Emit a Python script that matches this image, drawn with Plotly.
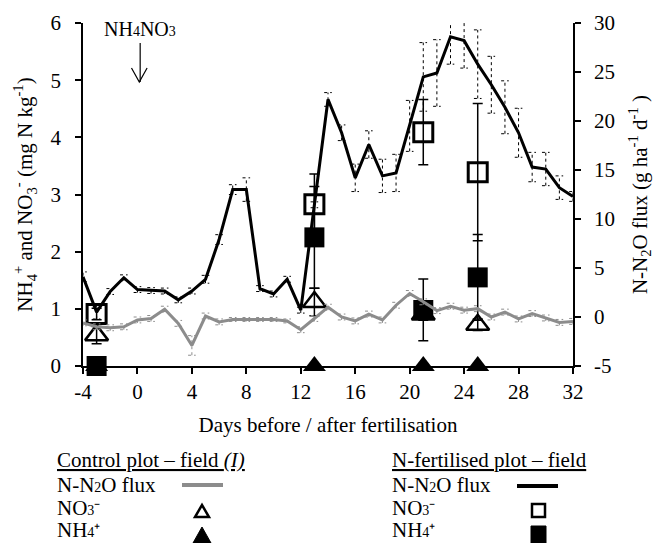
import plotly.graph_objects as go

# ---------------- data ----------------
days = list(range(-4, 33))
flux_fert = [4.1, 0.5, 2.6, 4.0, 2.8, 2.7, 2.65, 1.75, 2.65, 3.85, 7.9, 13.0, 13.0,
             2.9, 2.35, 3.85, 0.7, 11.45, 22.2, 18.8, 14.2, 17.6, 14.4, 14.7, 19.5,
             24.5, 24.9, 28.6, 28.2, 25.8, 23.7, 21.4, 18.8, 15.3, 15.1, 13.2, 12.3]
flux_fert_err = [0.5, 0.7, 0.3, 0.3, 0.3, 0.3, 0.3, 0.3, 0.3, 0.4, 0.5, 0.5, 1.2,
                 0.3, 0.3, 0.3, 0.3, 0.3, 0.7, 0.8, 1.4, 1.4, 1.7, 1.9, 2.6,
                 3.5, 3.4, 2.8, 2.8, 3.5, 2.9, 2.7, 2.5, 1.5, 1.7, 1.2, 0.5]
flux_ctrl = [-0.6, -1.0, -1.1, -1.0, -0.3, -0.15, 0.8, -0.65, -2.9, 0.1, -0.5, -0.25, -0.25,
             -0.25, -0.25, -0.4, -1.3, -0.15, 1.0, 0.0, -0.4, 0.3, -0.3, 1.2, 2.4,
             1.55, 0.65, 1.1, 0.7, 0.85, 0.0, 0.5, -0.2, 0.35, -0.1, -0.55, -0.45]
flux_ctrl_err = [0.3, 0.3, 0.3, 0.3, 0.3, 0.3, 0.3, 0.3, 1.0, 0.3, 0.3, 0.2, 0.2,
                 0.2, 0.2, 0.2, 0.3, 0.3, 0.3, 0.3, 0.3, 0.3, 0.3, 0.3, 0.3,
                 0.3, 0.3, 0.3, 0.3, 0.3, 0.3, 0.3, 0.3, 0.3, 0.3, 0.3, 0.3]

sample_days = [-3, 13, 21, 25]
no3_fert = [0.91, 2.83, 4.09, 3.39]
no3_fert_err = [0.1, 0.53, 0.57, 1.2]
nh4_fert = [0.0, 2.25, 0.98, 1.55]
nh4_fert_err = [0.05, 0.89, 0.54, 0.75]
no3_ctrl = [0.54, 1.12, 0.9, 0.72]
no3_ctrl_err = [0.15, 0.24, 0.1, 0.1]
nh4_ctrl = [0.0, 0.0, 0.0, 0.0]

x_ticks = list(range(-4, 33, 4))
y_ticks = list(range(0, 7))
y2_ticks = list(range(-5, 31, 5))
FONT = "Liberation Serif"
GRAY = "#8c8c8c"
FS = 21


def small(d, size=14):
    return f'<span style="font-size:{size}px">{d}</span>'


def dashed_bars(x, y, e, cap=0.28):
    xs, ys = [], []
    for xi, yi, ei in zip(x, y, e):
        xs += [xi, xi, None, xi - cap, xi + cap, None, xi - cap, xi + cap, None]
        ys += [yi - ei, yi + ei, None, yi + ei, yi + ei, None, yi - ei, yi - ei, None]
    return xs, ys


fig = go.Figure()

ex, ey = dashed_bars(days, flux_ctrl, flux_ctrl_err)
fig.add_trace(go.Scatter(x=ex, y=ey, yaxis="y2", mode="lines",
                         line=dict(color=GRAY, width=1, dash="dot"), showlegend=False))
ex, ey = dashed_bars(days, flux_fert, flux_fert_err)
fig.add_trace(go.Scatter(x=ex, y=ey, yaxis="y2", mode="lines",
                         line=dict(color="black", width=1, dash="dot"), showlegend=False))

fig.add_trace(go.Scatter(x=days, y=flux_ctrl, yaxis="y2", mode="lines",
                         line=dict(color=GRAY, width=3), showlegend=False))
fig.add_trace(go.Scatter(x=days, y=flux_fert, yaxis="y2", mode="lines",
                         line=dict(color="black", width=3), showlegend=False))

errstyle = dict(type="data", color="black", thickness=1.5, width=5)
fig.add_trace(go.Scatter(x=sample_days, y=no3_ctrl, mode="markers", cliponaxis=False,
                         error_y=dict(array=no3_ctrl_err, **errstyle),
                         marker=dict(symbol="triangle-up-open", size=20, color="black",
                                     line=dict(width=2.5, color="black")),
                         showlegend=False))
fig.add_trace(go.Scatter(x=sample_days, y=nh4_ctrl, mode="markers", cliponaxis=False,
                         marker=dict(symbol="triangle-up", size=20, color="black"),
                         showlegend=False))
fig.add_trace(go.Scatter(x=sample_days, y=no3_fert, mode="markers", cliponaxis=False,
                         error_y=dict(array=no3_fert_err, **errstyle),
                         marker=dict(symbol="square-open", size=19, color="black",
                                     line=dict(width=3, color="black")),
                         showlegend=False))
fig.add_trace(go.Scatter(x=sample_days, y=nh4_fert, mode="markers", cliponaxis=False,
                         error_y=dict(array=nh4_fert_err, **errstyle),
                         marker=dict(symbol="square", size=20, color="black"),
                         showlegend=False))

W, H = 660, 543
ML, MR, MT, MB = 83, 87, 23, 177
PW, PH = W - ML - MR, H - MT - MB


def px(xp):
    return (xp - ML) / PW


def py(yp):
    return (H - MB - yp) / PH


shapes = []
anns = []
# fertilisation arrow (day 0)
shapes.append(dict(type="line", xref="x", yref="paper", x0=0.2, x1=0.2, y0=py(43), y1=py(82),
                   line=dict(color="black", width=1.2)))
shapes.append(dict(type="path", xref="paper", yref="paper",
                   path=f"M{px(131.5)},{py(68)} L{px(139.3)},{py(82)} L{px(147.1)},{py(68)}",
                   line=dict(color="black", width=1.2)))
anns.append(dict(text=f"NH{small(4)}NO{small(3)}", xref="paper", yref="paper",
                 x=px(140), y=py(29), xanchor="center", yanchor="middle", showarrow=False,
                 font=dict(size=20, family=FONT, color="black")))

legend_font = dict(size=FS, family=FONT, color="black")
for x0, head in [(55, "<u>Control plot – field <i>(I)</i></u>"), (390, "<u>N-fertilised plot – field</u>")]:
    anns.append(dict(text=head, xref="paper", yref="paper", x=px(x0), y=py(460), xanchor="left",
                     yanchor="middle", showarrow=False, font=legend_font))
    for yy, label in [(485, f"N-N{small(2)}O flux"), (508, f"NO{small(3)}{small('⁻', 18)}"),
                      (530, f"NH{small(4)}{small('⁺', 18)}")]:
        anns.append(dict(text=label, xref="paper", yref="paper", x=px(x0), y=py(yy), xanchor="left",
                         yanchor="middle", showarrow=False, font=legend_font))

shapes.append(dict(type="line", xref="paper", yref="paper", x0=px(182), x1=px(223), y0=py(485), y1=py(485),
                   line=dict(color=GRAY, width=4)))
shapes.append(dict(type="path", xref="paper", yref="paper",
                   path=f"M{px(195)},{py(517)} L{px(209)},{py(517)} L{px(202)},{py(505)} Z",
                   line=dict(color="black", width=2.5), fillcolor="white"))
shapes.append(dict(type="path", xref="paper", yref="paper",
                   path=f"M{px(193)},{py(543)} L{px(211)},{py(543)} L{px(202)},{py(527)} Z",
                   line=dict(color="black", width=1), fillcolor="black"))
shapes.append(dict(type="line", xref="paper", yref="paper", x0=px(517), x1=px(558), y0=py(486), y1=py(486),
                   line=dict(color="black", width=4)))
shapes.append(dict(type="rect", xref="paper", yref="paper", x0=px(532), x1=px(545), y0=py(517), y1=py(504),
                   line=dict(color="black", width=2.5), fillcolor="white"))
shapes.append(dict(type="rect", xref="paper", yref="paper", x0=px(531), x1=px(546), y0=py(543), y1=py(526),
                   line=dict(color="black", width=1), fillcolor="black"))

axis_common = dict(showline=True, linecolor="black", linewidth=1.5, ticks="outside", ticklen=6,
                   tickwidth=1.5, tickcolor="black", showgrid=False, zeroline=False,
                   tickfont=dict(size=FS, family=FONT, color="black"), automargin=False)
title_font = dict(size=FS, family=FONT, color="black")

fig.update_layout(
    width=W, height=H, margin=dict(l=ML, r=MR, t=MT, b=MB),
    paper_bgcolor="white", plot_bgcolor="white",
    font=dict(family=FONT, color="black"),
    xaxis=dict(range=[-4, 32], tickvals=x_ticks, ticktext=[str(v) for v in x_ticks],
               ticklabelstandoff=0, **axis_common,
               title=dict(text="Days before / after fertilisation", standoff=14, font=title_font)),
    yaxis=dict(range=[0, 6], tickvals=y_ticks, ticktext=[str(v) for v in y_ticks],
               ticklabelstandoff=10, **axis_common,
               title=dict(text="NH<sub>4</sub><sup>+</sup> and NO<sub>3</sub><sup>-</sup> (mg N kg<sup>-1</sup>)",
                          standoff=12, font=title_font)),
    yaxis2=dict(range=[-5, 30], tickvals=y2_ticks, ticktext=[str(v) for v in y2_ticks],
                ticklabelstandoff=9, overlaying="y", side="right", anchor="x", **axis_common,
                title=dict(text="N-N<sub>2</sub>O flux (g ha<sup>-1</sup> d<sup>-1</sup> )",
                           standoff=18, font=title_font)),
    shapes=shapes, annotations=anns, showlegend=False,
)

fig.write_html("out.html")
